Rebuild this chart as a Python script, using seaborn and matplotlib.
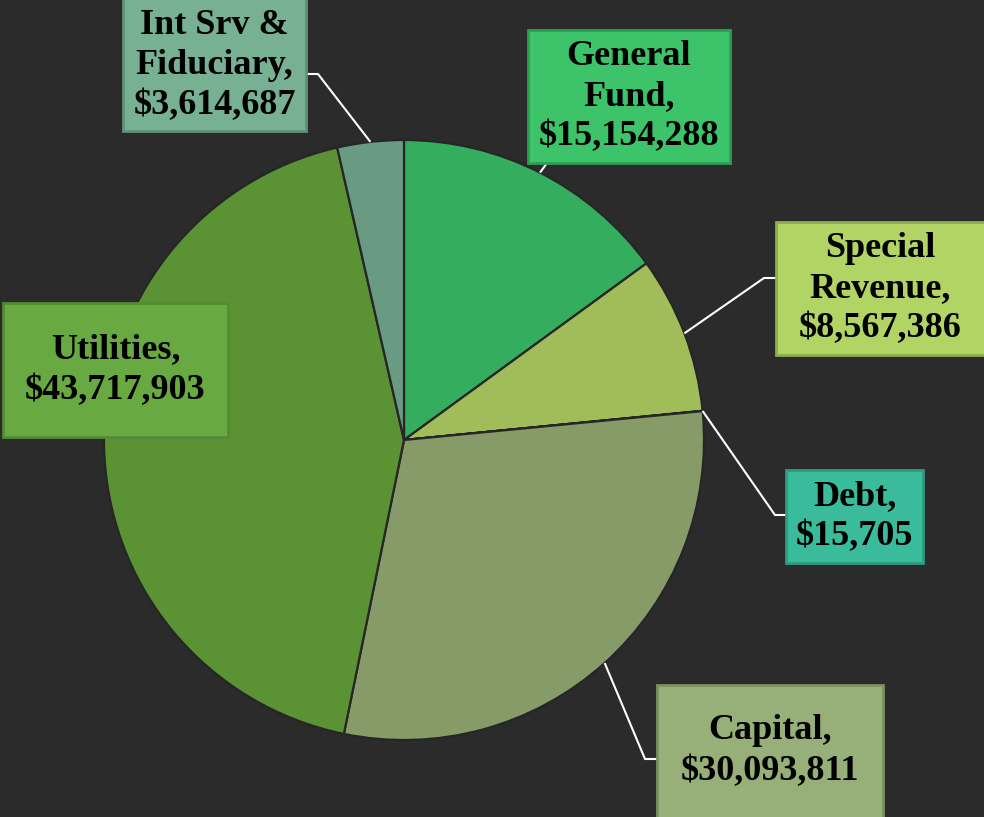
import numpy as np
import matplotlib
matplotlib.use("Agg")
import matplotlib.pyplot as plt
from matplotlib.patches import Rectangle
import seaborn as sns

# fund totals, clockwise from 12 o'clock
funds = ["General\nFund", "Special\nRevenue", "Debt", "Capital", "Utilities", "Int Srv &\nFiduciary"]
amounts = [15154288, 8567386, 15705, 30093811, 43717903, 3614687]

slice_colors = ["#35AD5F", "#A0BD59", "#3ABD9C", "#879B69", "#5B9334", "#699B82"]
box_colors = ["#3DC46B", "#B1D464", "#3ABC9C", "#97B07A", "#69A941", "#77B092"]
box_edges = ["#2F9E55", "#8BAE4B", "#2E9C80", "#7A9160", "#548B33", "#5F9277"]
explode = [0, 0, 0, 0.008, 0.008, 0]

# label boxes in pixel coords (y down): x0, y0, x1, y1
boxes = [(528, 30, 730, 163), (776, 222, 990, 355), (786, 470, 923, 563),
         (657, 685, 883, 830), (3, 303, 228, 437), (123, -5, 306, 131)]
# where the leader meets the box, and its elbow (None = no leader)
leader_box = [(547, 163), (776, 278), (786, 515), (657, 759), None, (306, 74)]
leader_elbow = [(547, 163), (764, 278), (775, 515), (645, 759), None, (318, 74)]

W, H = 984, 817
BG = "#2B2B2B"

sns.set_theme(style="dark", rc={"axes.facecolor": BG, "figure.facecolor": BG})
plt.rcParams["font.family"] = ["Liberation Serif", "DejaVu Serif"]

fig = plt.figure(figsize=(W / 100, H / 100), dpi=100)
ax = fig.add_axes([0, 0, 1, 1])
ax.set_xlim(0, W)
ax.set_ylim(0, H)
ax.set_aspect("equal")
ax.axis("off")

cx, cy, r = 404, H - 440, 300
wedges, _ = ax.pie(amounts, colors=sns.color_palette(slice_colors), startangle=90,
                   counterclock=False, explode=explode, center=(cx, cy), radius=r,
                   wedgeprops=dict(edgecolor="#262626", linewidth=1.6))
ax.set_xlim(0, W)
ax.set_ylim(0, H)

for i, w in enumerate(wedges):
    if leader_box[i] is None:
        continue
    mid = np.deg2rad((w.theta1 + w.theta2) / 2)
    px = w.center[0] + w.r * np.cos(mid)
    py = w.center[1] + w.r * np.sin(mid)
    bx, by = leader_box[i]
    ex, ey = leader_elbow[i]
    ax.plot([px, ex, bx], [py, H - ey, H - by], color="white", lw=1.5,
            solid_capstyle="butt", zorder=3)

for i, (name, amt) in enumerate(zip(funds, amounts)):
    x0, y0, x1, y1 = boxes[i]
    ax.add_patch(Rectangle((x0, H - y1), x1 - x0, y1 - y0, facecolor=box_colors[i],
                           edgecolor=box_edges[i], linewidth=2, zorder=4))
    tx = (x0 + min(x1, W)) / 2
    ty = (max(y0, 0) + min(y1, H)) / 2
    ax.text(tx, H - ty, f"{name},\n${amt:,}",
            ha="center", va="center", fontsize=26, fontweight="bold", color="black",
            linespacing=1.3, zorder=5)

fig.savefig("out.png", dpi=100, facecolor=BG)
